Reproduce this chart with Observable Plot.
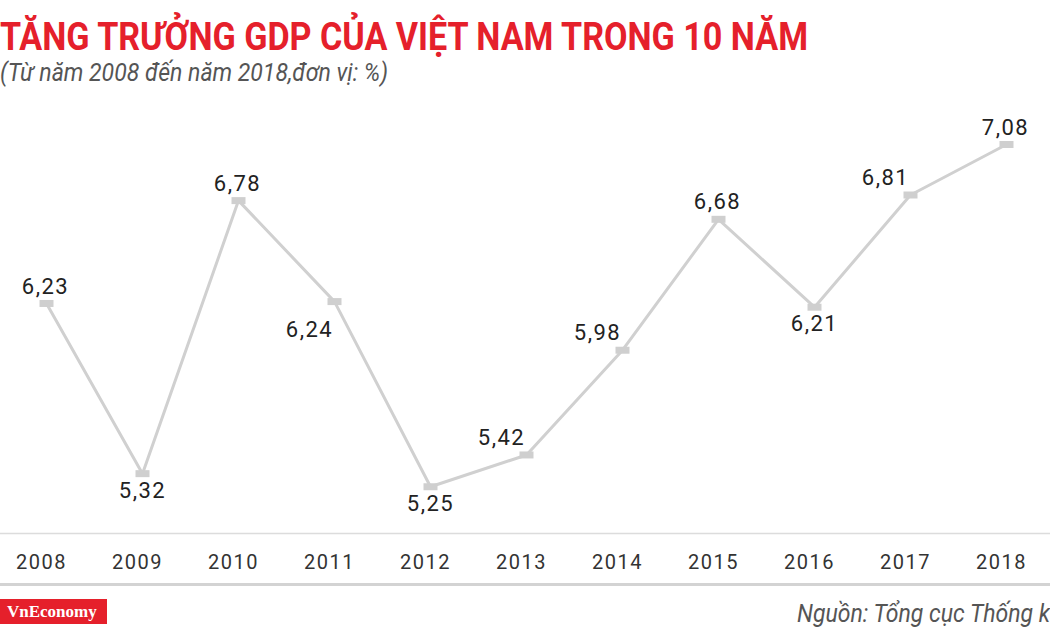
<!DOCTYPE html>
<html>
<head>
<meta charset="utf-8">
<script src="https://cdn.jsdelivr.net/npm/d3@7"></script>
<script src="https://cdn.jsdelivr.net/npm/@observablehq/plot@0.6"></script>
<style>
  html, body { margin: 0; padding: 0; background: #fff; }
  body { width: 1050px; height: 630px; overflow: hidden; position: relative; font-family: Roboto, "Noto Sans", sans-serif; }
  #head { position: relative; height: 90px; }
  #title { position: absolute; left: 0; top: 20px; font: 700 38px/34px Roboto, sans-serif; color: #e5202b; white-space: nowrap; display: inline-block; transform-origin: 0 0; }
  #subtitle { position: absolute; left: 0; top: 59px; font: italic 400 26px/26px Roboto, sans-serif; color: #555; white-space: nowrap; display: inline-block; transform-origin: 0 0; }
  #chart svg text { letter-spacing: 1.5px; }
  #foot { position: relative; height: 44px; border-top: 3px solid #d3d3d3; }
  #logo { position: absolute; left: 0; top: 13px; width: 107px; height: 25px; background: #e5202b; color: #fff; font: 700 17px/25px "Liberation Serif", serif; padding-left: 7px; box-sizing: border-box; }
  #source { position: absolute; left: 797px; top: 14px; font: italic 400 26px/1 Roboto, sans-serif; color: #555; white-space: nowrap; display: inline-block; transform-origin: 0 0; }
</style>
</head>
<body>
<div id="head">
  <div id="title">TĂNG TRƯỞNG GDP CỦA VIỆT NAM TRONG 10 NĂM</div>
  <div id="subtitle">(Từ năm 2008 đến năm 2018,đơn vị: %)</div>
</div>
<div id="chart"></div>
<div id="foot">
  <div id="logo">VnEconomy</div>
  <div id="source">Nguồn: Tổng cục Thống kê</div>
</div>
<script>
// GDP growth of Vietnam, 2008–2018 (%)
const years = [2008, 2009, 2010, 2011, 2012, 2013, 2014, 2015, 2016, 2017, 2018];
const growth = [6.23, 5.32, 6.78, 6.24, 5.25, 5.42, 5.98, 6.68, 6.21, 6.81, 7.08];

// Condensed headline type: squeeze the text horizontally to its set width
function condense(el, width) {
  const w = el.getBoundingClientRect().width;
  const k = width / w;
  el.style.transform = `scaleX(${k})`;
  return k;
}
condense(document.getElementById("title"), 808);
const k = condense(document.getElementById("subtitle"), 388);
document.getElementById("source").style.transform = `scaleX(${k})`;

// Where each value label sits depends on the shape of the line at that point
function shape(i) {
  const v = growth[i], p = growth[i - 1], n = growth[i + 1];
  const overPrev = p === undefined || v > p;
  const overNext = n === undefined || v > n;
  if (overPrev && overNext) return "peak";
  if (!overPrev && !overNext) return "trough";
  return v > p ? "rising" : "falling";
}

const data = years.map((year, i) => ({
  year,
  value: growth[i],
  label: growth[i].toFixed(2).replace(".", ","),
  shape: shape(i)
}));

const offsets = {
  peak: {dx: -1, dy: -17},
  trough: {dx: 0, dy: 17},
  rising: {dx: -25, dy: -17},
  falling: {dx: -25, dy: 28}
};

const marker = {
  draw(context) { context.rect(-7, -3.5, 14, 7); }
};

const labelStyle = {fontSize: 22, fill: "#222", textAnchor: "middle", lineAnchor: "middle"};

const chart = Plot.plot({
  width: 1050,
  height: 493,
  marginTop: 0,
  marginLeft: 0,
  marginRight: 0,
  marginBottom: 50,
  style: {fontFamily: "Roboto, sans-serif", background: "transparent", overflow: "visible"},
  x: {type: "point", domain: years, range: [42, 1010], padding: 0},
  y: {domain: [5, 7.08], range: [443, 54], axis: null},
  marks: [
    Plot.ruleY([5], {stroke: "#dcdcdc", strokeWidth: 1.3}),
    Plot.axisX({tickSize: 0, tickPadding: 21, tickFormat: d => `${d}`, fontSize: 20, fill: "#333", dx: -5, label: null}),
    Plot.line(data, {x: "year", y: "value", stroke: "#d0d0d0", strokeWidth: 3}),
    Plot.dot(data, {x: "year", y: "value", symbol: marker, r: 4, fill: "#cfcfcf", stroke: "none"}),
    ...Object.entries(offsets).map(([s, o]) =>
      Plot.text(data.filter(d => d.shape === s), {x: "year", y: "value", text: "label", dx: o.dx, dy: o.dy, ...labelStyle})
    )
  ]
});
document.getElementById("chart").appendChild(chart);
</script>
</body>
</html>
